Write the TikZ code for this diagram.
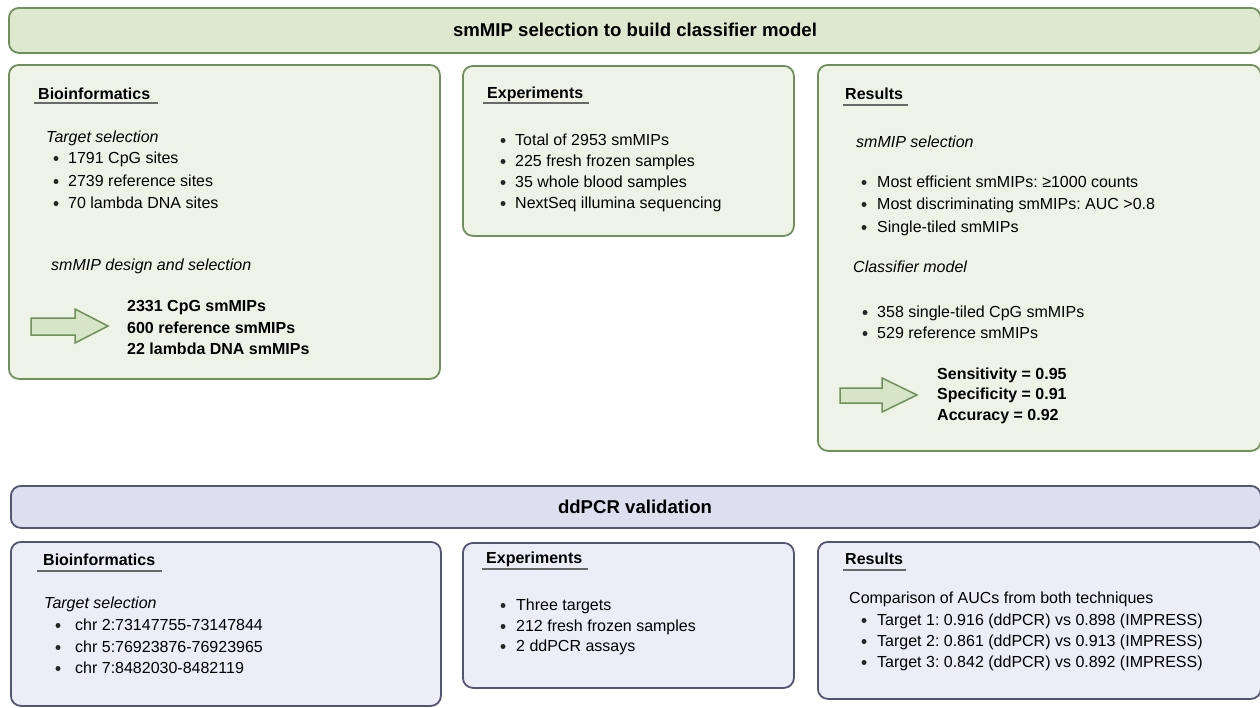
\documentclass[tikz,border=0pt]{standalone}
\usepackage{fontspec}
\setmainfont{Liberation Sans}
\usepackage{xcolor}
\usetikzlibrary{positioning}
\frenchspacing
\definecolor{bargreen}{RGB}{221,232,207}
\definecolor{boxgreen}{RGB}{239,243,231}
\definecolor{edgegreen}{RGB}{110,145,90}
\definecolor{arrowgreen}{RGB}{214,229,199}
\definecolor{barblue}{RGB}{221,223,239}
\definecolor{boxblue}{RGB}{236,237,246}
\definecolor{edgeblue}{RGB}{82,86,115}
\definecolor{rulegrey}{RGB}{105,105,105}

\tikzset{
    panel/.style={rounded corners=10pt, line width=1.8pt, anchor=north west, inner sep=0pt},
    gpanel/.style={panel, draw=edgegreen, fill=boxgreen},
    gbarpanel/.style={panel, draw=edgegreen, fill=bargreen},
    bpanel/.style={panel, draw=edgeblue, fill=boxblue},
    bbarpanel/.style={panel, draw=edgeblue, fill=barblue},
    bartitle/.style={anchor=base, inner sep=0pt, font=\fontsize{18.6}{22}\selectfont\bfseries},
    head/.style={anchor=base west, inner sep=0pt, font=\fontsize{16}{19}\selectfont\bfseries},
    sub/.style={anchor=base west, inner sep=0pt, font=\fontsize{16}{19}\selectfont\itshape},
    txt/.style={anchor=base west, inner sep=0pt, font=\fontsize{16}{19}\selectfont},
    bold/.style={anchor=base west, inner sep=0pt, font=\fontsize{16}{19}\selectfont\bfseries},
    dot/.style={circle, fill=black!85, inner sep=0pt, minimum size=5pt},
    uline/.style={rulegrey, line width=1.8pt},
    fatarrow/.style={draw=edgegreen, fill=arrowgreen, line width=1.5pt, line join=miter}
}

\begin{document}
\begin{tikzpicture}[x=1pt, y=-1pt]
    \useasboundingbox (0,0) rectangle (1260,707);

    % smMIP selection part (green)
    \node[gbarpanel, minimum width=1252pt, minimum height=45pt] (gbar) at (8,7) {};
    \node[bartitle] (gbartitle) at (635,36) {smMIP selection to build classifier model};

    \node[gpanel, minimum width=431pt, minimum height=314pt] (gbio) at (8,64) {};
    \node[gpanel, minimum width=331pt, minimum height=170pt] (gexp) at (462,65) {};
    \node[gpanel, minimum width=443pt, minimum height=386pt] (gres) at (817,64) {};

    % Bioinformatics
    \node[head] (gbiohead) at (38,99) {Bioinformatics};
    \draw[uline] ([shift={(-4,4)}]gbiohead.base west) -- ([shift={(8,4)}]gbiohead.base east);
    \node[sub] (gbiosub1) at (46,142) {Target selection};
    \foreach \y/\t [count=\i] in {163/{1791 CpG sites}, 186/{2739 reference sites}, 208/{70 lambda DNA sites}} {
        \node[dot] (gbiodot\i) at (56,\y-4.5) {};
        \node[txt] (gbiotxt\i) at (68,\y) {\t};
    }
    \node[sub] (gbiosub2) at (51,270) {smMIP design and selection};
    \draw[fatarrow] (31,318) -- (75,318) -- (75,309) -- (108,326) -- (75,343) -- (75,335) -- (31,335) -- cycle;
    \foreach \y/\t [count=\i] in {311/{2331 CpG smMIPs}, 333/{600 reference smMIPs}, 354/{22 lambda DNA smMIPs}} {
        \node[bold] (gbiobold\i) at (127,\y) {\t};
    }

    % Experiments
    \node[head] (gexphead) at (487,98) {Experiments};
    \draw[uline] ([shift={(-4,5)}]gexphead.base west) -- ([shift={(6,5)}]gexphead.base east);
    \foreach \y/\t [count=\i] in {145/{Total of 2953 smMIPs}, 166/{225 fresh frozen samples}, 187/{35 whole blood samples}, 208/{NextSeq illumina sequencing}} {
        \node[dot] (gexpdot\i) at (503,\y-4.5) {};
        \node[txt] (gexptxt\i) at (515,\y) {\t};
    }

    % Results
    \node[head] (greshead) at (845,99) {Results};
    \draw[uline] ([shift={(-2,6)}]greshead.base west) -- ([shift={(5,6)}]greshead.base east);
    \node[sub] (gressub1) at (856,147) {smMIP selection};
    \foreach \y/\t [count=\i] in {187/{Most efficient smMIPs: ≥1000 counts}, 209/{Most discriminating smMIPs: AUC >0.8}, 232/{Single-tiled smMIPs}} {
        \node[dot] (gresdot\i) at (864,\y-4.5) {};
        \node[txt] (grestxt\i) at (877,\y) {\t};
    }
    \node[sub] (gressub2) at (853,272) {Classifier model};
    \foreach \y/\t [count=\i] in {317/{358 single-tiled CpG smMIPs}, 338/{529 reference smMIPs}} {
        \node[dot] (gresdotb\i) at (865,\y-4.5) {};
        \node[txt] (grestxtb\i) at (877,\y) {\t};
    }
    \draw[fatarrow] (840,388) -- (882,388) -- (882,378) -- (917,395) -- (882,412) -- (882,403) -- (840,403) -- cycle;
    \foreach \y/\t [count=\i] in {379/{Sensitivity = 0.95}, 399/{Specificity = 0.91}, 420/{Accuracy = 0.92}} {
        \node[bold] (gresbold\i) at (937,\y) {\t};
    }

    % ddPCR validation part (blue)
    \node[bbarpanel, minimum width=1250pt, minimum height=42pt] (bbar) at (10,485) {};
    \node[bartitle] (bbartitle) at (635,513) {ddPCR validation};

    \node[bpanel, minimum width=430pt, minimum height=164pt] (bbio) at (10,541) {};
    \node[bpanel, minimum width=331pt, minimum height=145pt] (bexp) at (462,542) {};
    \node[bpanel, minimum width=443pt, minimum height=157pt] (bres) at (817,541) {};

    % Bioinformatics
    \node[head] (bbiohead) at (43,565) {Bioinformatics};
    \draw[uline] ([shift={(-6,6)}]bbiohead.base west) -- ([shift={(7,6)}]bbiohead.base east);
    \node[sub] (bbiosub) at (44,608) {Target selection};
    \foreach \y/\t [count=\i] in {630/{chr 2:73147755-73147844}, 652/{chr 5:76923876-76923965}, 673/{chr 7:8482030-8482119}} {
        \node[dot] (bbiodot\i) at (58,\y-4.5) {};
        \node[txt] (bbiotxt\i) at (75,\y) {\t};
    }

    % Experiments
    \node[head] (bexphead) at (486,563) {Experiments};
    \draw[uline] ([shift={(-4,6)}]bexphead.base west) -- ([shift={(6,6)}]bexphead.base east);
    \foreach \y/\t [count=\i] in {610/{Three targets}, 631/{212 fresh frozen samples}, 651/{2 ddPCR assays}} {
        \node[dot] (bexpdot\i) at (503,\y-4.5) {};
        \node[txt] (bexptxt\i) at (516,\y) {\t};
    }

    % Results
    \node[head] (breshead) at (845,564) {Results};
    \draw[uline] ([shift={(-2,6)}]breshead.base west) -- ([shift={(3,6)}]breshead.base east);
    \node[txt] (bressub) at (849,603) {Comparison of AUCs from both techniques};
    \foreach \y/\t [count=\i] in {625/{Target 1: 0.916 (ddPCR) vs 0.898 (IMPRESS)}, 646/{Target 2: 0.861 (ddPCR) vs 0.913 (IMPRESS)}, 667/{Target 3: 0.842 (ddPCR) vs 0.892 (IMPRESS)}} {
        \node[dot] (bresdot\i) at (864,\y-4.5) {};
        \node[txt] (brestxt\i) at (877,\y) {\t};
    }
\end{tikzpicture}
\end{document}
